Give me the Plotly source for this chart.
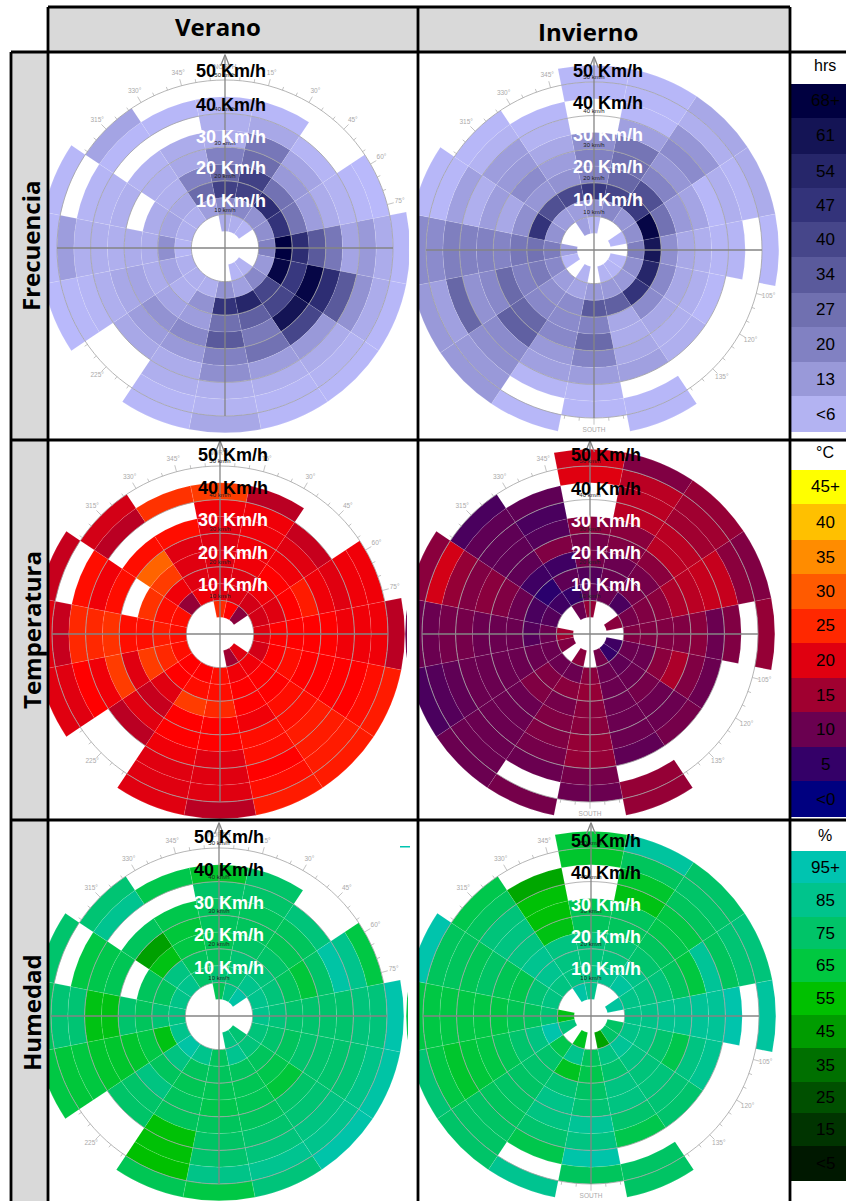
import plotly.graph_objects as go

N = None
SECTOR_ANGLES = [i * 22.5 for i in range(16)]      # N, NNE, ... clockwise
RING_BASES = [5, 10, 15, 20, 25, 30, 35, 40, 45, 50]  # km/h
RING_WIDTH = 5
SECTOR_WIDTH = 22.5
GRID_SPEEDS = [10, 20, 30, 40, 50]
COLUMNS = ["Verano", "Invierno"]
ROWS = ["Frecuencia", "Temperatura", "Humedad"]

# one row per direction, one value per speed ring (None = no hours recorded)
freq_verano = [
    [8, 18, 42, 30, 20, 8, 7, 4, N, N],
    [7, 18, 42, 42, 28, 24, 9, 4, N, N],
    [5, 15, 50, 26, 13, 10, 5, N, N, N],
    [N, 16, 47, 25, 12, 8, 6, 4, 3, N],
    [N, 20, 68, 50, 34, 24, 10, 13, 8, 4],
    [N, 13, 66, 45, 66, 50, 34, 15, 8, 4],
    [6, 18, 40, 40, 61, 40, 13, 8, 6, 4],
    [5, 11, 54, 32, 23, 26, 12, 7, 5, 4],
    [N, 15, 47, 27, 34, 20, 16, 7, 6, 9],
    [N, 7, 15, 12, 18, 13, 8, 7, 5, 4],
    [N, 7, 7, 10, 15, 12, 9, N, N, N],
    [N, 7, 10, 8, 10, 9, 7, 5, 4, 3],
    [N, 5, 16, 8, 8, 7, 7, 7, 12, 4],
    [N, 7, 10, 8, N, 7, 6, 5, N, 4],
    [N, 7, 9, 7, 7, 6, N, 4, 10, N],
    [N, 12, 29, 20, 9, 8, N, 4, N, N],
]
freq_invierno = [
    [5, 15, 45, 20, 20, 16, N, N, 4, 4],
    [N, 18, 40, 30, 27, 25, 11, 4, 4, 4],
    [N, 14, 44, 37, 19, 14, 17, 14, 7, 9],
    [4, 16, 66, 26, 13, 10, 4, 7, 5, 8],
    [N, 21, 60, 16, 9, 7, 5, 5, N, 4],
    [4, 16, 54, 18, 9, 7, 4, N, N, N],
    [5, 13, 47, 17, 9, 7, 7, N, N, N],
    [6, 13, 32, 9, 8, 9, 11, N, 4, 4],
    [N, 13, 34, 20, 29, 19, 12, 5, 4, N],
    [6, 10, 17, 17, 18, 13, 11, 5, N, 4],
    [N, 12, 16, 18, 30, 32, 17, 16, 13, 13],
    [4, 18, 23, 20, 29, 18, 15, 30, 11, 13],
    [11, 22, 26, 24, 19, 20, 20, 21, 17, 17],
    [N, 15, 47, 16, 9, 12, 7, 11, 4, 4],
    [N, 12, 37, 14, 17, 13, 12, 6, 4, N],
    [11, 12, 39, 15, 12, 9, 6, 4, N, N],
]
temp_verano = [
    [25, 20, 20, 20, 20, 20, 21, 27, N, N],
    [22, 20, 20, 21, 21, 21, 21, 17, N, N],
    [13, 19, 21, 22, 21, 20, 18, N, N, N],
    [N, 19, 20, 22, 24, 21, 20, 21, 21, N],
    [N, 20, 22, 22, 22, 22, 21, 21, 21, 17],
    [N, 19, 22, 23, 22, 22, 22, 22, 23, 24],
    [20, 21, 22, 22, 23, 23, 24, 24, 24, 24],
    [15, 21, 22, 22, 21, 23, 23, 22, 23, 24],
    [N, 23, 23, 25, 22, 22, 20, 20, 20, 17],
    [N, 22, 23, 27, 22, 22, 21, 20, 20, 20],
    [N, 22, 22, 20, 18, 20, 17, N, N, N],
    [N, 23, 25, 27, 20, 27, 21, 22, 20, 20],
    [N, 23, 24, 23, 23, 26, 25, 25, 18, 20],
    [N, 23, 23, 26, N, 23, 21, 23, N, 18],
    [N, 14, 21, 27, 31, 23, N, 17, 19, N],
    [N, 21, 20, 20, 20, 23, N, 26, N, N],
]
temp_invierno = [
    [14, 9, 8, 11, 11, 13, N, N, 20, 19],
    [N, 10, 10, 10, 12, 13, 17, 17, 17, 12],
    [N, 7, 11, 11, 13, 17, 17, 15, 15, 14],
    [13, 11, 12, 13, 16, 17, 18, 18, 13, 12],
    [N, 12, 12, 12, 12, 13, 10, 12, N, 14],
    [6, 10, 10, 13, 16, 12, 10, N, N, N],
    [5, 9, 10, 11, 10, 10, 11, N, N, N],
    [11, 10, 10, 10, 10, 10, 9, N, 14, 14],
    [N, 13, 14, 13, 13, 14, 14, 11, 10, N],
    [13, 10, 13, 11, 12, 12, 11, 10, N, 11],
    [N, 10, 12, 12, 10, 10, 10, 10, 10, 10],
    [12, 10, 10, 10, 10, 10, 10, 9, 8, 7],
    [15, 10, 8, 10, 10, 10, 11, 11, 10, 10],
    [N, 8, 7, 10, 12, 13, 12, 14, 19, 13],
    [N, 6, 4, 6, 9, 9, 9, 9, 7, N],
    [10, 5, 9, 6, 12, 8, 7, 9, N, N],
]
hum_verano = [
    [70, 78, 72, 70, 72, 72, 75, 62, N, N],
    [82, 78, 78, 74, 72, 72, 75, 75, N, N],
    [92, 85, 80, 75, 70, 72, 80, N, N, N],
    [N, 85, 80, 72, 64, 75, 92, 85, 66, N],
    [N, 85, 80, 76, 76, 76, 76, 80, 80, 94],
    [N, 80, 76, 72, 76, 76, 76, 78, 84, 92],
    [78, 80, 72, 68, 64, 75, 78, 82, 85, 93],
    [82, 86, 72, 70, 70, 72, 76, 80, 86, 80],
    [N, 72, 72, 70, 68, 72, 74, 76, 84, 66],
    [N, 85, 72, 70, 72, 72, 56, 56, 55, 70],
    [N, 92, 82, 72, 82, 75, 75, N, N, N],
    [N, 85, 58, 66, 62, 62, 62, 65, 64, 66],
    [N, 82, 78, 72, 76, 58, 58, 78, 78, 72],
    [N, 84, 72, 72, N, 70, 68, 66, N, 76],
    [N, 85, 82, 58, 46, 72, N, 86, 78, N],
    [N, 75, 72, 66, 64, 68, N, 68, N, N],
]
hum_invierno = [
    [85, 82, 80, 80, 72, 70, N, N, 62, 64],
    [N, 86, 80, 78, 72, 72, 58, 62, 72, 90],
    [N, 90, 84, 76, 72, 68, 66, 72, 75, 75],
    [90, 84, 82, 80, 72, 65, 88, 72, 78, 80],
    [N, 84, 84, 86, 86, 88, 88, 94, N, 90],
    [74, 84, 82, 76, 68, 82, 86, N, N, N],
    [75, 88, 82, 80, 80, 78, 76, N, N, N],
    [47, 82, 76, 82, 82, 76, 68, N, 74, 74],
    [N, 72, 68, 74, 78, 88, 82, 93, 72, N],
    [60, 85, 60, 78, 84, 82, 76, 68, N, 86],
    [N, 68, 76, 76, 74, 74, 72, 74, 74, 75],
    [80, 94, 82, 76, 70, 66, 64, 62, 66, 78],
    [58, 78, 72, 70, 66, 66, 66, 66, 66, 66],
    [N, 82, 78, 68, 70, 74, 70, 72, 72, 94],
    [N, 82, 86, 86, 82, 82, 80, 72, 68, N],
    [92, 82, 82, 82, 58, 56, 56, 48, N, N],
]

freq_levels = [3, 6, 13, 20, 27, 34, 40, 47, 54, 61, 68]
freq_colors = ["#b9b9fb", "#b3b3f2", "#9999d9", "#8181c2", "#7070b0", "#5a5a9c",
               "#46468a", "#33337a", "#26266a", "#141455", "#000040"]
temp_levels = [0, 5, 10, 15, 20, 25, 30, 35, 40, 45]
temp_colors = ["#000080", "#340068", "#6a0050", "#a00030", "#e00010", "#ff2800",
               "#ff5a00", "#ff8c00", "#ffc000", "#ffff00"]
# cells between 20 and 25 °C pass through a pure red
temp_cell_levels = [0, 5, 10, 15, 20, 22, 25, 30, 35, 40, 45]
temp_cell_colors = ["#000080", "#340068", "#6a0050", "#a00030", "#e00010", "#ff0000", "#ff2800",
                    "#ff5a00", "#ff8c00", "#ffc000", "#ffff00"]
hum_levels = [5, 15, 25, 35, 45, 55, 65, 75, 85, 95]
hum_colors = ["#001800", "#003400", "#005000", "#007000", "#009c00", "#00c000",
              "#00c840", "#00c468", "#00c48c", "#00c4b0"]

freq_labels = ["68+", "61", "54", "47", "40", "34", "27", "20", "13", "<6"]
temp_labels = ["45+", "40", "35", "30", "25", "20", "15", "10", "5", "<0"]
hum_labels = ["95+", "85", "75", "65", "55", "45", "35", "25", "15", "<5"]
unit_labels = ["hrs", "°C", "%"]

W, H = 846, 1220
R_MAX = 58.0
PX_PER_KMH = 3.36
R_PX = R_MAX * PX_PER_KMH


def px(x):
    return x / W


def py(y):
    return 1 - y / H


def scale(levels, colors):
    lo, hi = levels[0], levels[-1]
    return [[(v - lo) / (hi - lo), c] for v, c in zip(levels, colors)]


PANELS = [
    (freq_verano, freq_levels, freq_colors, 225, 248),
    (freq_invierno, freq_levels, freq_colors, 594, 250),
    (temp_verano, temp_cell_levels, temp_cell_colors, 220, 634),
    (temp_invierno, temp_cell_levels, temp_cell_colors, 590, 634),
    (hum_verano, hum_levels, hum_colors, 219, 1016),
    (hum_invierno, hum_levels, hum_colors, 591, 1016),
]

BIG_LABELS = [
    (231, [201, 168, 137, 105, 71]),
    (608, [200, 167, 135, 103, 71]),
    (233, [585, 553, 520, 488, 455]),
    (606, [585, 553, 521, 489, 455]),
    (229, [968, 935, 903, 870, 837]),
    (606, [969, 937, 905, 873, 841]),
]

fig = go.Figure()
layout_polars = {}
annotations = []
GRID = "#9c9c9c"
AXIS = "#858585"
FAINT = "#aaaaaa"

for i, (data, levels, colors, cx, cy) in enumerate(PANELS):
    sub = "polar" if i == 0 else f"polar{i + 1}"
    layout_polars[sub] = dict(
        domain=dict(x=[px(cx - R_PX), px(cx + R_PX)],
                    y=[py(cy + R_PX), py(cy - R_PX)]),
        bgcolor="rgba(0,0,0,0)",
        radialaxis=dict(visible=False, range=[0, R_MAX]),
        angularaxis=dict(visible=False, direction="clockwise", rotation=90),
    )
    thetas, bases, values = [], [], []
    for s, rings in enumerate(data):
        for k, v in enumerate(rings):
            if v is not None:
                thetas.append(SECTOR_ANGLES[s])
                bases.append(RING_BASES[k])
                values.append(v)
    fig.add_trace(go.Barpolar(
        subplot=sub, theta=thetas, base=bases, r=[RING_WIDTH] * len(values),
        width=[SECTOR_WIDTH] * len(values),
        marker=dict(color=values, colorscale=scale(levels, colors),
                    cmin=levels[0], cmax=levels[-1], showscale=False,
                    line=dict(color="rgba(255,255,255,0.22)", width=0.5)),
        opacity=1, hoverinfo="skip", showlegend=False))

    # graduated outer ring: bars always lie beneath scatter traces, so
    # ticks and labels are drawn only where the outermost ring is empty
    def open_at(a):
        return data[int(round(a / 22.5)) % 16][-1] is None

    tr, tt = [], []
    for a in range(0, 360, 5):
        if open_at(a):
            tr += [50, 52 if a % 15 == 0 else 51, None]
            tt += [a, a, None]
    fig.add_trace(go.Scatterpolar(subplot=sub, r=tr, theta=tt, mode="lines",
                                  line=dict(color=FAINT, width=0.7),
                                  hoverinfo="skip", showlegend=False))
    names = {0: "NORTH", 90: "EAST", 180: "SOUTH", 270: "WEST"}
    la = [a for a in range(0, 360, 15) if open_at(a)]
    fig.add_trace(go.Scatterpolar(
        subplot=sub, r=[53.8] * len(la), theta=la, mode="text",
        text=[names.get(a, f"{a}°") for a in la],
        textfont=dict(family="Liberation Sans", size=6.5, color="#aaaaaa"),
        hoverinfo="skip", showlegend=False))

    circle = list(range(0, 361, 3))
    for sp in GRID_SPEEDS:
        fig.add_trace(go.Scatterpolar(subplot=sub, r=[sp] * len(circle), theta=circle,
                                      mode="lines", line=dict(color=GRID, width=0.75),
                                      hoverinfo="skip", showlegend=False))
    # cross axes and north arrow
    fig.add_trace(go.Scatterpolar(
        subplot=sub,
        r=[57.5, 0, 50, None, 50, 0, 50, None, 54.2, 57.5, 54.2],
        theta=[0, 0, 180, None, 90, 0, 270, None, -1.4, 0, 1.4],
        mode="lines", line=dict(color=AXIS, width=1.3),
        hoverinfo="skip", showlegend=False))
    fig.add_trace(go.Scatterpolar(
        subplot=sub, r=[s + 1.2 for s in GRID_SPEEDS], theta=[0] * len(GRID_SPEEDS),
        mode="text", text=[f"{s} km/h" for s in GRID_SPEEDS],
        textfont=dict(family="Liberation Sans", size=6, color="#222222"),
        hoverinfo="skip", showlegend=False))

    lx, ly = BIG_LABELS[i]
    for sp, y in zip(GRID_SPEEDS, ly):
        annotations.append(dict(
            x=px(lx), y=py(y), xref="paper", yref="paper", showarrow=False,
            xanchor="center", yanchor="middle", text=f"<b>{sp} Km/h</b>",
            font=dict(family="Liberation Sans", size=18,
                      color="white" if sp <= 30 else "black")))

shapes = []


def rect(x0, y0, x1, y1, fill, line=None, lw=0):
    shapes.append(dict(type="rect", xref="paper", yref="paper", layer="above",
                       x0=px(x0), x1=px(x1), y0=py(y1), y1=py(y0),
                       fillcolor=fill, line=dict(color=line or fill, width=lw)))


def hline(y, x0, x1):
    shapes.append(dict(type="line", xref="paper", yref="paper", layer="above",
                       x0=px(x0), x1=px(x1), y0=py(y), y1=py(y),
                       line=dict(color="black", width=2.8)))


def vline(x, y0, y1):
    shapes.append(dict(type="line", xref="paper", yref="paper", layer="above",
                       x0=px(x), x1=px(x), y0=py(y0), y1=py(y1),
                       line=dict(color="black", width=2.8)))


# panels are cropped at their borders
rect(409, 53, 418, 440, "white")
rect(407, 440, 418, 820, "white")
rect(408, 820, 418, 1201, "white")
rect(790, 53, 846, 1220, "white")

GREY = "#d9d9d9"
rect(48, 7, 418, 52, GREY)
rect(418, 7, 790, 52, GREY)
rect(11, 52, 48, 1220, GREY)

# teal stray mark in the lower left panel
rect(400, 846, 410, 847.5, "#00c4b0")

LEG = [
    (freq_labels, freq_colors[::-1][:10], [84, 118, 154, 188, 222, 257, 293, 327, 362, 396, 432], 66),
    (temp_labels, temp_colors[::-1], [470, 504, 540, 574, 609, 643, 678, 712, 747, 781, 817], 452),
    (hum_labels, hum_colors[::-1], [851, 883, 917, 949, 982, 1015, 1048, 1082, 1113, 1146, 1181], 835),
]
for (labels, cols, edges, uy), unit in zip(LEG, unit_labels):
    for j, (lab, col) in enumerate(zip(labels, cols)):
        rect(791, edges[j], 846, edges[j + 1], col)
        annotations.append(dict(
            x=px(825), y=py((edges[j] + edges[j + 1]) / 2), xref="paper", yref="paper",
            showarrow=False, xanchor="center", yanchor="middle", text=lab,
            font=dict(family="Liberation Sans", size=17, color="black")))
    annotations.append(dict(
        x=px(825), y=py(uy), xref="paper", yref="paper", showarrow=False,
        xanchor="center", yanchor="middle", text=unit,
        font=dict(family="Liberation Sans", size=16, color="black")))

# frame
hline(7, 48, 790)
for y in (52, 440, 820):
    hline(y, 11, 846)
vline(11, 52, 1220)
vline(48, 7, 1220)
vline(418, 7, 1220)
vline(790, 7, 1220)

for text, x, y in zip(COLUMNS, (218, 588), (27, 31)):
    annotations.append(dict(x=px(x), y=py(y), xref="paper", yref="paper", showarrow=False,
                            xanchor="center", yanchor="middle", text=f"<b>{text}</b>",
                            font=dict(family="Open Sans", size=24, color="black")))
for text, y in zip(ROWS, (246, 630, 1012)):
    annotations.append(dict(x=px(31), y=py(y), xref="paper", yref="paper", showarrow=False,
                            xanchor="center", yanchor="middle", textangle=-90,
                            text=f"<b>{text}</b>",
                            font=dict(family="Open Sans", size=24, color="black")))

fig.update_layout(width=W, height=H, autosize=False,
                  margin=dict(l=0, r=0, t=0, b=0, pad=0),
                  paper_bgcolor="white", plot_bgcolor="white",
                  showlegend=False, shapes=shapes, annotations=annotations,
                  **layout_polars)

fig.write_html("out.html", config=dict(displayModeBar=False),
               post_script="document.body.style.margin='0';"
                           "document.body.style.overflow='hidden';"
                           "document.documentElement.style.overflow='hidden';")
